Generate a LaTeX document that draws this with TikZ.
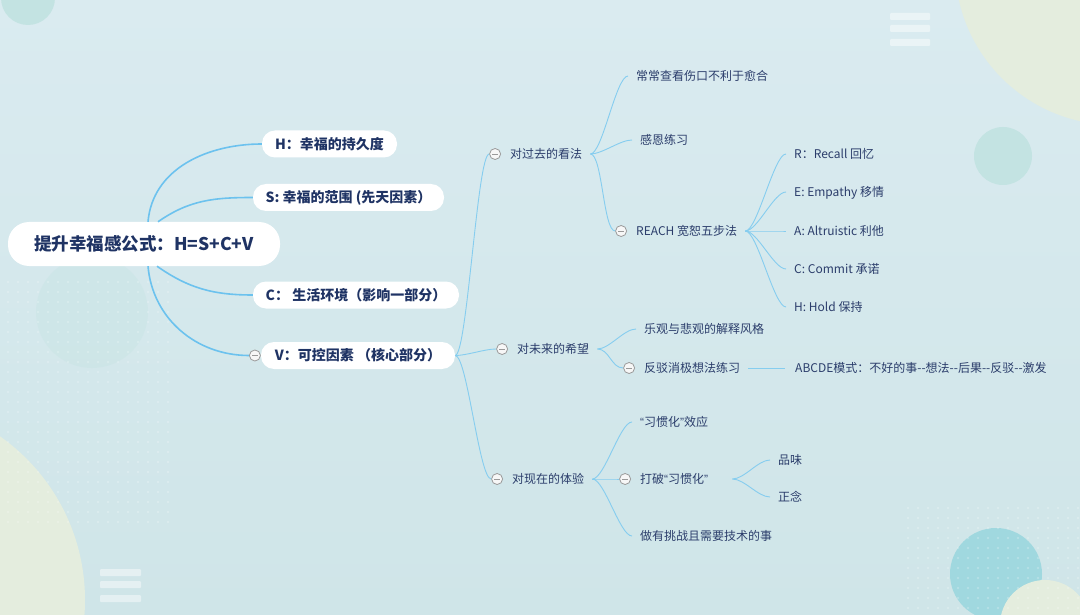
\documentclass[tikz,border=0pt]{standalone}
\usepackage{fontspec}
\setmainfont{Noto Sans CJK SC}
\newfontfamily\latq{Liberation Sans}
\usetikzlibrary{calc,positioning}
\definecolor{bgtop}{HTML}{DAEBF0}
\definecolor{bgbot}{HTML}{CFE5E8}
\definecolor{teal1}{HTML}{C3E3E2}
\definecolor{teal2}{HTML}{A0D8DF}
\definecolor{pale}{HTML}{E4EDDE}
\definecolor{navy}{HTML}{1F3364}
\definecolor{navy2}{HTML}{2B3D6B}
\definecolor{rootblue}{HTML}{6CC2EE}
\definecolor{lineblue}{HTML}{86CDEF}
\definecolor{cgray}{HTML}{9A9A9A}
\tikzset{
  rootbox/.style={fill=white, rounded corners=21pt, minimum width=272pt, minimum height=44pt,
    inner sep=0pt, text=navy, font=\bfseries\fontsize{17.5}{20}\selectfont},
  lonebox/.style={fill=white, rounded corners=13pt, minimum height=27pt, inner sep=0pt,
    text=navy, font=\bfseries\fontsize{14}{16}\selectfont},
  leaf/.style={anchor=west, inner xsep=8pt, inner ysep=0pt, text height=9pt, text depth=0pt,
    text=navy2, font=\fontsize{12}{14}\selectfont},
  fold/.style={circle, draw=cgray, fill=white!94!gray, line width=0.8pt, minimum size=11pt, inner sep=0pt,
    path picture={\draw[cgray, line width=0.8pt] ([xshift=-2.8pt]path picture bounding box.center) -- ([xshift=2.8pt]path picture bounding box.center);}},
  rootline/.style={draw=rootblue, line width=1.6pt},
  subline/.style={draw=lineblue, line width=0.9pt},
  bar/.style={fill=white, opacity=0.45, rounded corners=1pt},
}
\newcommand\mmconn[2]{\draw[subline] (#1) .. controls +(12,0) and +(-12,0) .. (#2);}
\newcommand\myoq{{\latq “}}
\newcommand\mycq{{\latq ”}}
\begin{document}
\begin{tikzpicture}[x=1pt,y=-1pt]
\useasboundingbox (0,0) rectangle (1080,615);
% background
\shade[top color=bgtop, bottom color=bgbot] (0,0) rectangle (1080,615);
\begin{scope}
\clip (0,0) rectangle (1080,615);
\fill[teal1] (28,-2) circle (27);
\fill[pale] (1115,-35) circle (160);
\fill[teal1] (1003,156) circle (29);
\fill[teal1, opacity=0.35] (92,312) circle (56);
\fill[pale] (-115,600) circle (200);
\fill[teal2] (996,574) circle (46);
\fill[pale] (1045,625) circle (45);
\foreach \i in {0,...,16} \foreach \j in {0,...,24}
  \fill[white, opacity=0.22] (8+\i*10, 282+\j*10) circle (1.4);
\foreach \i in {0,...,17} \foreach \j in {0,...,10}
  \fill[white, opacity=0.22] (908+\i*10, 508+\j*10) circle (1.4);
\end{scope}
\fill[bar] (890,13) rectangle (930,20);
\fill[bar] (890,25) rectangle (930,32);
\fill[bar] (890,39) rectangle (930,46);
\fill[bar] (100,569) rectangle (141,576);
\fill[bar] (100,581) rectangle (141,588);
\fill[bar] (100,595) rectangle (141,602);

% main nodes
\node[rootbox] (root) at (144,244) {提升幸福感公式：H=S+C+V};
\node[lonebox, minimum width=135pt] (H) at (329.5,144) {H：幸福的持久度};
\node[lonebox, minimum width=191pt] (S) at (348.5,197.5) {S: 幸福的范围 (先天因素）};
\node[lonebox, minimum width=206pt] (C) at (356,295) {C： 生活环境（影响一部分）};
\node[lonebox, minimum width=194pt] (V) at (358,355.5) {V：可控因素 （核心部分）};
\node[fold, left=0pt of V] (cV) {};

% level 2
\node[leaf] (past) at (502,154) {对过去的看法};
\node[fold, left=1pt of past] (cpast) {};
\node[leaf] (future) at (509,349) {对未来的希望};
\node[fold, left=1pt of future] (cfuture) {};
\node[leaf] (present) at (504,479) {对现在的体验};
\node[fold, left=1pt of present] (cpresent) {};

% level 3 under past
\node[leaf] (wound) at (628,76) {常常查看伤口不利于愈合};
\node[leaf] (thank) at (632,140) {感恩练习};
\node[leaf] (reach) at (628,231) {REACH 宽恕五步法};
\node[fold, left=1pt of reach] (creach) {};
\node[leaf] (rR) at (786,154) {R：Recall 回忆};
\node[leaf] (rE) at (786,192) {E: Empathy 移情};
\node[leaf] (rA) at (786,231) {A: Altruistic 利他};
\node[leaf] (rC) at (786,269) {C: Commit 承诺};
\node[leaf] (rH) at (786,307) {H: Hold 保持};

% level 3 under future
\node[leaf] (style) at (636,329) {乐观与悲观的解释风格};
\node[leaf] (refute) at (636,368) {反驳消极想法练习};
\node[fold, left=1pt of refute] (crefute) {};
\node[leaf] (abcde) at (787,368) {ABCDE模式：不好的事-{}-想法-{}-后果-{}-反驳-{}-激发};

% level 3 under present
\node[leaf] (habit) at (632,422) {\myoq 习惯化\mycq 效应};
\node[leaf] (break) at (632,479) {打破\myoq 习惯化\mycq};
\node[fold, left=1pt of break] (cbreak) {};
\node[leaf, inner xsep=0pt] (savor) at (778,460) {品味};
\node[leaf, inner xsep=0pt] (mind) at (778,497) {正念};
\node[leaf] (skill) at (632,536) {做有挑战且需要技术的事};

% root connectors
\draw[rootline] ($(root.north)+(4,0)$) to[out=85,in=180] (H.west);
\draw[rootline] ($(root.north)+(14,0)$) to[out=35,in=180] (S.west);
\draw[rootline] ($(root.south)+(13,0)$) to[out=-35,in=180] (C.west);
\draw[rootline] ($(root.south)+(4,0)$) to[out=-85,in=180] (cV.west);

% sub connectors
\mmconn{V.east}{cpast.west}
\mmconn{V.east}{cfuture.west}
\mmconn{V.east}{cpresent.west}
\mmconn{past.east}{wound.west}
\mmconn{past.east}{thank.west}
\mmconn{past.east}{creach.west}
\mmconn{reach.east}{rR.west}
\mmconn{reach.east}{rE.west}
\mmconn{reach.east}{rA.west}
\mmconn{reach.east}{rC.west}
\mmconn{reach.east}{rH.west}
\mmconn{future.east}{style.west}
\mmconn{future.east}{crefute.west}
\draw[subline] (refute.east) -- ([xshift=-2pt]abcde.west);
\mmconn{present.east}{habit.west}
\mmconn{present.east}{cbreak.west}
\mmconn{present.east}{skill.west}
\draw[subline] ([xshift=16pt]break.east) .. controls +(12,0) and +(-12,0) .. ([xshift=-8pt]savor.west);
\draw[subline] ([xshift=16pt]break.east) .. controls +(12,0) and +(-12,0) .. ([xshift=-8pt]mind.west);
\end{tikzpicture}
\end{document}
